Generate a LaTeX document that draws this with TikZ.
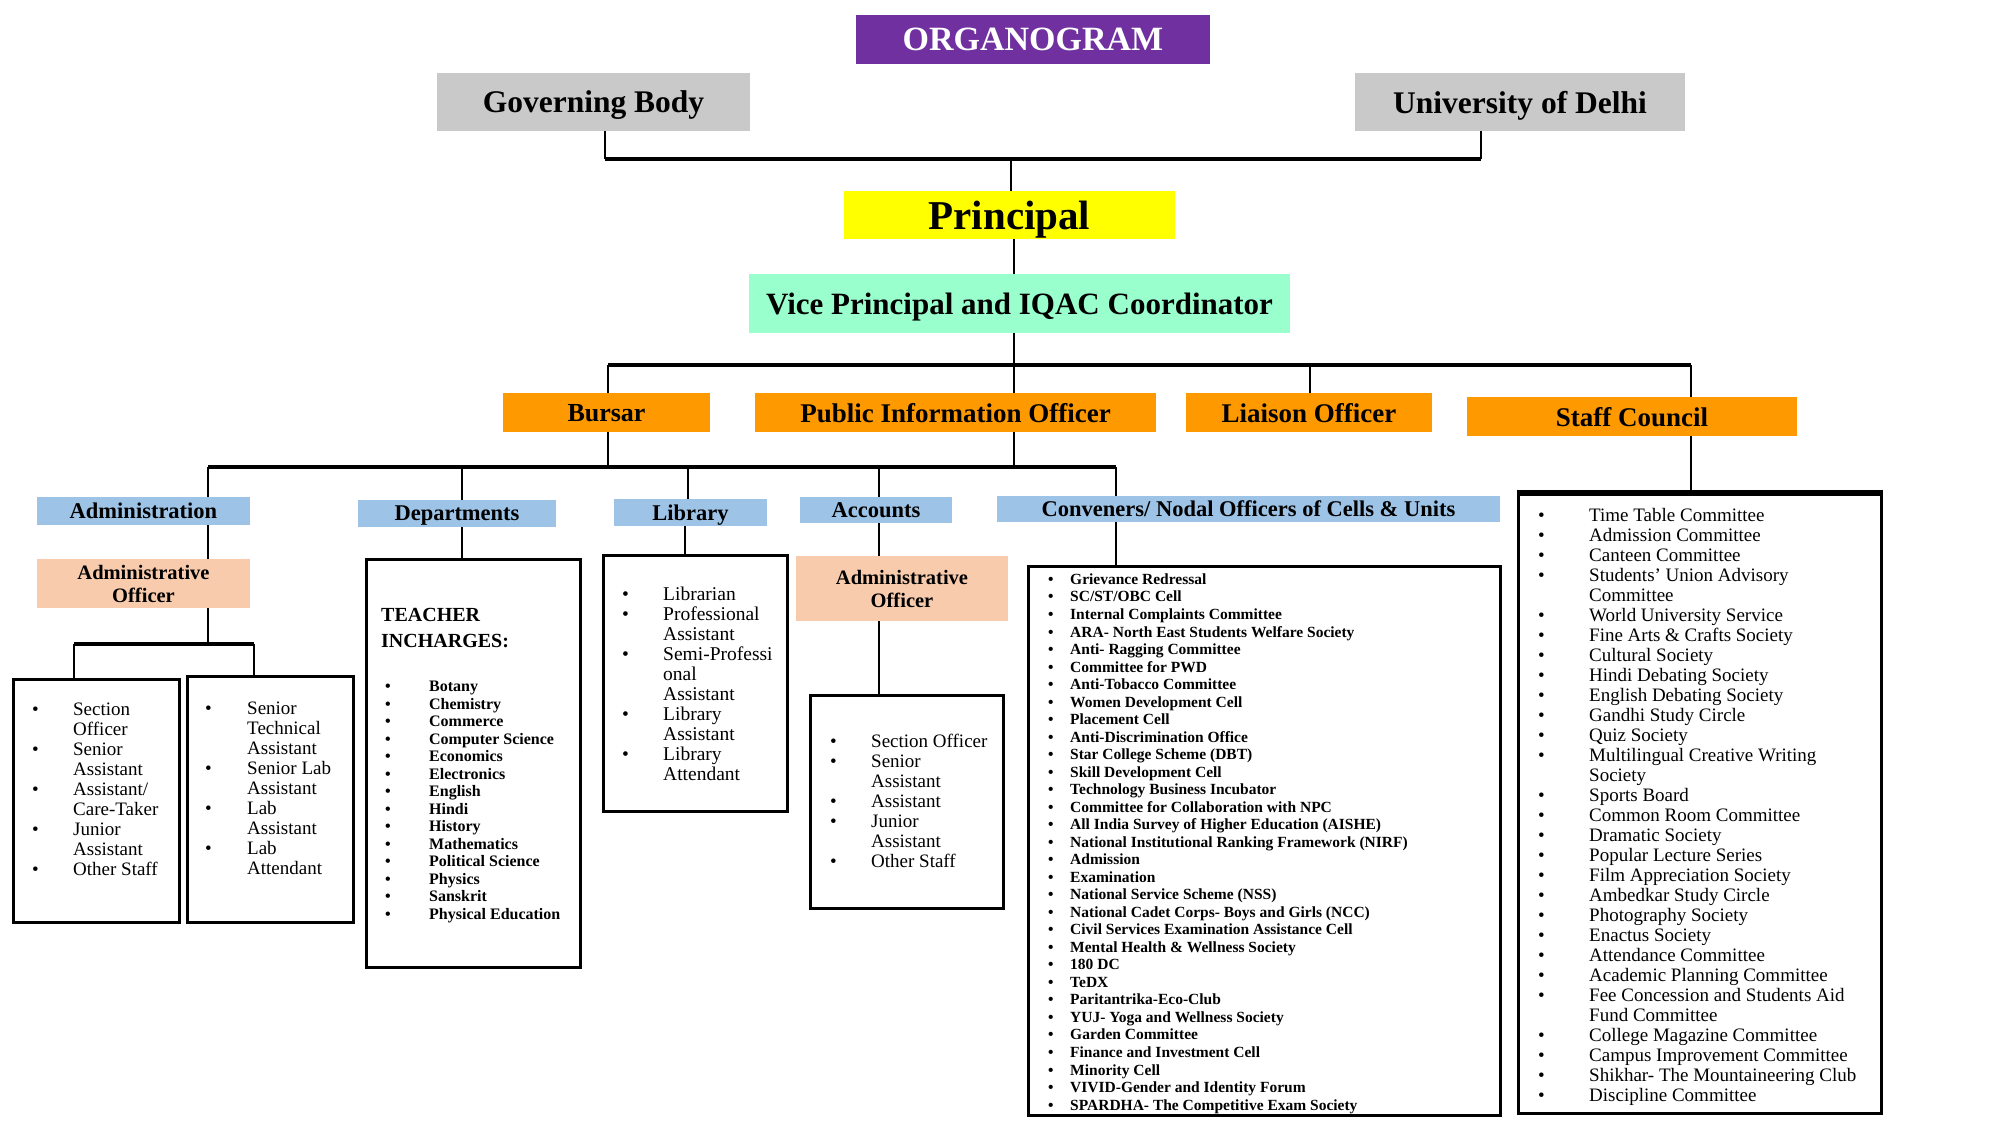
\documentclass[tikz,border=0pt]{standalone}
\usepackage{fontspec}
\setmainfont{Liberation Serif}
\usetikzlibrary{positioning}

\definecolor{orgpurple}{HTML}{7030A0}
\definecolor{topgrey}{HTML}{C9C9C9}
\definecolor{prinyellow}{HTML}{FFFF00}
\definecolor{vpmint}{HTML}{99FFCC}
\definecolor{offorange}{HTML}{FF9900}
\definecolor{unitblue}{HTML}{9DC3E6}
\definecolor{aopeach}{HTML}{F8CBAD}

\newlength\bulind
\newcommand\itm{\makebox[\bulind][l]{\textbullet}}
\newcommand\cnt{\hspace*{\bulind}}
\newcommand\fs[2]{\fontsize{#1}{#2}\selectfont}

\begin{document}
\begin{tikzpicture}[x=1pt,y=-1pt,
  head/.style={inner sep=0pt,align=center,text depth=0pt},
  link/.style={line width=2pt},
  bar/.style={line width=3.5pt},
  frame/.style={draw,line width=3pt,inner sep=0pt},
  listtxt/.style={anchor=north west,inner sep=0pt,align=left}]
\useasboundingbox (0,0) rectangle (2000,1125);

% top levels
\node[head,fill=orgpurple,text=white,font=\bfseries\fs{34}{40},minimum width=354,minimum height=49] (org) at (1033,39.5) {ORGANOGRAM};
\node[head,fill=topgrey,font=\bfseries\fs{31.5}{36},minimum width=313,minimum height=58] (gb) at (593.5,102) {Governing Body};
\node[head,fill=topgrey,font=\bfseries\fs{31.5}{36},minimum width=330,minimum height=58] (ud) at (1520,102) {University of Delhi};
\node[head,fill=prinyellow,font=\bfseries\fs{41}{46},minimum width=331,minimum height=48] (pr) at (1009.5,215) {Principal};
\node[head,fill=vpmint,font=\bfseries\fs{31}{36},minimum width=541,minimum height=59] (vp) at (1019.5,303.5) {Vice Principal and IQAC Coordinator};

% officers
\node[head,fill=offorange,font=\bfseries\fs{26}{30},minimum width=207,minimum height=39] (bu) at (606.5,412.5) {Bursar};
\node[head,fill=offorange,font=\bfseries\fs{27}{30},minimum width=401,minimum height=39] (pio) at (955.5,412.5) {Public Information Officer};
\node[head,fill=offorange,font=\bfseries\fs{27}{30},minimum width=246,minimum height=39] (lo) at (1309,412.5) {Liaison Officer};
\node[head,fill=offorange,font=\bfseries\fs{27}{30},minimum width=330,minimum height=39] (sc) at (1632,416.5) {Staff Council};

% units
\node[head,fill=unitblue,font=\bfseries\fs{22.5}{25},minimum width=213,minimum height=28] (adm) at (143.5,511) {Administration};
\node[head,fill=unitblue,font=\bfseries\fs{22.5}{25},minimum width=198,minimum height=27] (dep) at (457,513.5) {Departments};
\node[head,fill=unitblue,font=\bfseries\fs{22.5}{25},minimum width=153,minimum height=27] (lib) at (690.5,512.5) {Library};
\node[head,fill=unitblue,font=\bfseries\fs{22.5}{25},minimum width=152,minimum height=26] (acc) at (876,510) {Accounts};
\node[head,fill=unitblue,font=\bfseries\fs{22.5}{25},minimum width=503,minimum height=26] (conv) at (1248.5,509) {Conveners/ Nodal Officers of Cells \& Units};
\node[head,fill=aopeach,font=\bfseries\fs{20.5}{23},minimum width=213,minimum height=49] (aoa) at (143.5,583.5) {Administrative\\Officer};
\node[head,fill=aopeach,font=\bfseries\fs{20.5}{23},minimum width=212,minimum height=65] (aob) at (902,588.5) {Administrative\\Officer};

% boxes
\node[frame,minimum width=166,minimum height=243] (admboxa) at (96,800.5) {};
\node[frame,minimum width=166,minimum height=246] (admboxb) at (270,799) {};
\node[frame,minimum width=214,minimum height=408] (depbox) at (473,763) {};
\node[frame,minimum width=184,minimum height=256] (libbox) at (695,683) {};
\node[frame,minimum width=193,minimum height=213] (accbox) at (906.5,801.5) {};
\node[frame,minimum width=472,minimum height=549] (convbox) at (1264,840.5) {};
\node[frame,minimum width=363,minimum height=619] (scbox) at (1699.5,803.5) {};
\draw[line width=5pt] (scbox.north west) -- (scbox.north east);

% list texts
\setlength\bulind{41pt}
\node[listtxt,font=\fs{19}{20}] (admlista) at (32,703) {%
\itm Section\\ \cnt Officer\\ \itm Senior\\ \cnt Assistant\\ \itm Assistant/\\ \cnt Care-Taker\\
\itm Junior\\ \cnt Assistant\\ \itm Other Staff};
\setlength\bulind{42pt}
\node[listtxt,font=\fs{19}{20}] (admlistb) at (205,702) {%
\itm Senior\\ \cnt Technical\\ \cnt Assistant\\ \itm Senior Lab\\ \cnt Assistant\\ \itm Lab\\ \cnt Assistant\\
\itm Lab\\ \cnt Attendant};
\node[listtxt,font=\bfseries\fs{20}{26}] (teach) at (381,608) {TEACHER\\INCHARGES:};
\setlength\bulind{44pt}
\node[listtxt,font=\bfseries\fs{16}{17.5}] (deplist) at (385,681) {%
\itm Botany\\ \itm Chemistry\\ \itm Commerce\\ \itm Computer Science\\ \itm Economics\\ \itm Electronics\\
\itm English\\ \itm Hindi\\ \itm History\\ \itm Mathematics\\ \itm Political Science\\ \itm Physics\\
\itm Sanskrit\\ \itm Physical Education};
\setlength\bulind{41pt}
\node[listtxt,font=\fs{19.5}{20}] (liblist) at (622,587) {%
\itm Librarian\\ \itm Professional\\ \cnt Assistant\\ \itm Semi-Professi\\ \cnt onal\\ \cnt Assistant\\
\itm Library\\ \cnt Assistant\\ \itm Library\\ \cnt Attendant};
\node[listtxt,font=\fs{19}{20}] (acclist) at (830,734) {%
\itm Section Officer\\ \itm Senior\\ \cnt Assistant\\ \itm Assistant\\ \itm Junior\\ \cnt Assistant\\ \itm Other Staff};
\setlength\bulind{22pt}
\node[listtxt,font=\bfseries\fs{15.5}{17.52}] (convlist) at (1048,573.5) {%
\itm Grievance Redressal\\ \itm SC/ST/OBC Cell\\ \itm Internal Complaints Committee\\
\itm ARA- North East Students Welfare Society\\ \itm Anti- Ragging Committee\\ \itm Committee for PWD\\
\itm Anti-Tobacco Committee\\ \itm Women Development Cell\\ \itm Placement Cell\\
\itm Anti-Discrimination Office\\ \itm Star College Scheme (DBT)\\ \itm Skill Development Cell\\
\itm Technology Business Incubator\\ \itm Committee for Collaboration with NPC\\
\itm All India Survey of Higher Education (AISHE)\\ \itm National Institutional Ranking Framework (NIRF)\\
\itm Admission\\ \itm Examination\\ \itm National Service Scheme (NSS)\\
\itm National Cadet Corps- Boys and Girls (NCC)\\ \itm Civil Services Examination Assistance Cell\\
\itm Mental Health \& Wellness Society\\ \itm 180 DC\\ \itm TeDX\\ \itm Paritantrika-Eco-Club\\
\itm YUJ- Yoga and Wellness Society\\ \itm Garden Committee\\ \itm Finance and Investment Cell\\
\itm Minority Cell\\ \itm VIVID-Gender and Identity Forum\\ \itm SPARDHA- The Competitive Exam Society};
\setlength\bulind{51pt}
\node[listtxt,font=\fs{19}{20}] (sclist) at (1538,508.5) {%
\itm Time Table Committee\\ \itm Admission Committee\\ \itm Canteen Committee\\
\itm Students' Union Advisory\\ \cnt Committee\\ \itm World University Service\\
\itm Fine Arts \& Crafts Society\\ \itm Cultural Society\\ \itm Hindi Debating Society\\
\itm English Debating Society\\ \itm Gandhi Study Circle\\ \itm Quiz Society\\
\itm Multilingual Creative Writing\\ \cnt Society\\ \itm Sports Board\\ \itm Common Room Committee\\
\itm Dramatic Society\\ \itm Popular Lecture Series\\ \itm Film Appreciation Society\\
\itm Ambedkar Study Circle\\ \itm Photography Society\\ \itm Enactus Society\\
\itm Attendance Committee\\ \itm Academic Planning Committee\\ \itm Fee Concession and Students Aid\\
\cnt Fund Committee\\ \itm College Magazine Committee\\ \itm Campus Improvement Committee\\
\itm Shikhar- The Mountaineering Club\\ \itm Discipline Committee};

% junctions
\coordinate (ta) at (605,159);
\coordinate (tb) at (1481,159);
\coordinate (tc) at (1011,159);
\coordinate (va) at (608,365);
\coordinate (vb) at (1014,365);
\coordinate (vc) at (1310,365);
\coordinate (vd) at (1691,365);
\coordinate (ua) at (208,467);
\coordinate (ub) at (462,467);
\coordinate (uc) at (688,467);
\coordinate (ud') at (879,467);
\coordinate (ue) at (1116,467);
\coordinate (aa) at (74,644);
\coordinate (ab) at (254,644);

% connectors
\draw[link] (ta |- gb.south) -- (ta);
\draw[link] (tb |- ud.south) -- (tb);
\draw[bar] (ta) -- (tb);
\draw[link] (tc) -- (tc |- pr.north);
\draw[link] (pr.south -| vb) -- (vb |- vp.north);
\draw[link] (vb |- vp.south) -- (vb);
\draw[bar] (va) -- (vd);
\foreach \j/\n in {va/bu,vb/pio,vc/lo,vd/sc}
  \draw[link] (\j) -- (\j |- \n.north);
\draw[link] (va |- bu.south) -- (va |- ua);
\draw[link] (vb |- pio.south) -- (vb |- ua);
\draw[bar] (ua) -- (ue);
\foreach \j/\n in {ua/adm,ub/dep,uc/lib,ud'/acc,ue/conv}
  \draw[link] (\j) -- (\j |- \n.north);
\draw[link] (ua |- adm.south) -- (ua |- aoa.north);
\draw[link] (ua |- aoa.south) -- (ua |- aa);
\draw[bar] (aa) -- (ab);
\draw[link] (aa) -- (aa |- admboxa.north);
\draw[link] (ab) -- (ab |- admboxb.north);
\draw[link] (ub |- dep.south) -- (ub |- depbox.north);
\draw[link] (685,0 |- lib.south) -- (685,0 |- libbox.north);
\draw[link] (ud' |- acc.south) -- (ud' |- aob.north);
\draw[link] (ud' |- aob.south) -- (ud' |- accbox.north);
\draw[link] (ue |- conv.south) -- (ue |- convbox.north);
\draw[link] (vd |- sc.south) -- (vd |- scbox.north);
\end{tikzpicture}
\end{document}
